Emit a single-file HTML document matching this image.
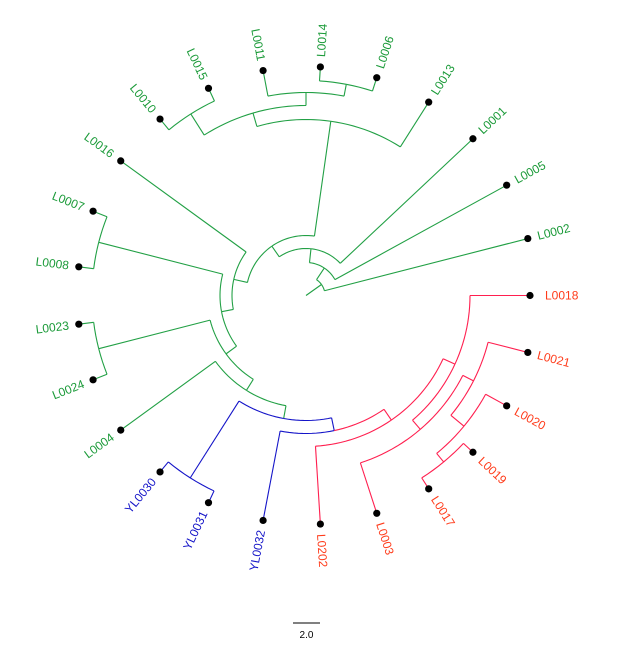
<!DOCTYPE html>
<html><head><meta charset="utf-8">
<style>html,body{margin:0;padding:0;background:#fff;}svg{display:block;}</style>
</head><body>
<svg id="s" width="619" height="647" viewBox="0 0 619 647" xmlns="http://www.w3.org/2000/svg" font-family="Liberation Sans, sans-serif"></svg>
<script>
var CX=306, CY=295.5, G="#22a045", R="#ff1f4f", B="#1414c8", GL="#1a9a38", RL="#ff3b1a";
var names=["L0018","L0021","L0020","L0019","L0017","L0003","L0202","YL0032","YL0031","YL0030","L0004","L0024","L0023","L0008","L0007","L0016","L0010","L0015","L0011","L0014","L0006","L0013","L0001","L0005","L0002"];
function T(i){return {tip:true,i:i,a:-14.4*i,r:(i==0?224:229),c:(i<=6?R:(i<=9?B:G))};}
function N(r,ch,c){return {r:r,ch:ch,c:c};}
var t=[];for(var i=0;i<25;i++)t.push(T(i));
var n216=N(216,[t[3],t[4]],R), n205=N(205,[t[2],n216],R), n188=N(188,[t[1],n205],R),
n176=N(176,[n188,t[5]],R), n164=N(164,[t[0],n176],R), n151=N(151,[n164,t[6]],R),
n138=N(138,[t[7],n151],B), ny=N(216,[t[8],t[9]],B), n125=N(125,[n138,ny],G),
n112=N(112,[t[10],n125],G), n2324=N(214,[t[11],t[12]],G), n99=N(99,[n112,n2324],G),
n78=N(214,[t[13],t[14]],G), n86=N(86,[n99,n78],G), n74=N(74,[n86,t[15]],G),
nw=N(215,[t[16],t[17]],G), ny2=N(215,[t[19],t[20]],G), nx=N(203,[t[18],ny2],G),
nv=N(190,[nw,nx],G), nu=N(176,[nv,t[21]],G), n60=N(60,[n74,nu],G), n47=N(47,[n60,t[22]],G),
n33=N(33,[n47,t[23]],G), n19=N(19,[n33,t[24]],G);
function ang(n){if(n.tip)return n.a;var s=0;n.ch.forEach(function(c){s+=ang(c);});n.a=s/n.ch.length;return n.a;}
ang(n19);
function P(r,a){var q=a*Math.PI/180;return [CX+r*Math.cos(q),CY-r*Math.sin(q)];}
var out="";
function line(p,q,c){out+='<line x1="'+p[0].toFixed(2)+'" y1="'+p[1].toFixed(2)+'" x2="'+q[0].toFixed(2)+'" y2="'+q[1].toFixed(2)+'" stroke="'+c+'" stroke-width="1.1"/>';}
function arc(r,a1,a2,c){var n=Math.max(2,Math.ceil(Math.abs(a2-a1)/2)),pts=[];for(var k=0;k<=n;k++){var p=P(r,a1+(a2-a1)*k/n);pts.push(p[0].toFixed(2)+","+p[1].toFixed(2));}
out+='<polyline points="'+pts.join(" ")+'" fill="none" stroke="'+c+'" stroke-width="1.1"/>';}
function draw(n){if(n.tip)return;n.ch.forEach(function(c){arc(n.r,n.a,c.a,c.c);line(P(n.r,c.a),P(c.r,c.a),c.c);draw(c);});}
line(P(0,n19.a),P(19,n19.a),G);
draw(n19);
t.forEach(function(tp){var p=P(tp.r,tp.a);out+='<circle cx="'+p[0].toFixed(2)+'" cy="'+p[1].toFixed(2)+'" r="3.6" fill="#000"/>';
var lp=P(239,tp.a),col=tp.i<=6?RL:(tp.i<=9?B:GL),right=Math.cos(tp.a*Math.PI/180)>0.001;
var rot=right?-tp.a:180-tp.a;
out+='<text x="'+lp[0].toFixed(2)+'" y="'+lp[1].toFixed(2)+'" fill="'+col+'" font-size="12" text-anchor="'+(right?'start':'end')+'" dominant-baseline="central" transform="rotate('+rot.toFixed(2)+' '+lp[0].toFixed(2)+' '+lp[1].toFixed(2)+')">'+names[tp.i]+'</text>';});
out+='<line x1="293" y1="623" x2="320" y2="623" stroke="#000" stroke-width="1"/><text x="306.5" y="638" font-size="10" text-anchor="middle" fill="#000">2.0</text>';
document.getElementById("s").innerHTML=out;
</script>
</body></html>
